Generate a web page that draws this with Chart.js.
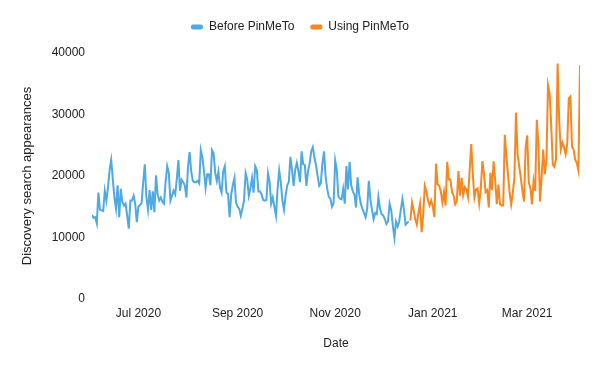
<!DOCTYPE html>
<html>
<head>
<meta charset="utf-8">
<script src="https://cdn.jsdelivr.net/npm/chart.js@4.4.0/dist/chart.umd.min.js"></script>
<style>
  html, body { margin: 0; padding: 0; background: #fff; }
</style>
</head>
<body>
<canvas id="chart" width="600" height="371"></canvas>
<script>
// first day of the "Before PinMeTo" series, one value per day after that
const startDate = '2020-06-02';

const beforeValues = [
  13700, 13200, 13300, 12300, 17300, 14500, 14400, 14300, 17600, 16000,
  18100, 21000, 22600, 19500, 16500, 14700, 18500, 13300, 17900, 15800,
  15200, 15500, 13500, 11450, 16000, 16000, 16800, 15500, 12500, 15000,
  15300, 15600, 19000, 21900, 16500, 14500, 17700, 14500, 17500, 14100,
  20100, 17000, 16000, 16500, 15800, 15500, 19000, 21600, 20500, 16000,
  16800, 17600,
  17000, 19500, 22600, 17600, 19400, 19000, 18500, 16500, 21500, 23900,
  20800, 19200, 19000, 19000, 19200, 18800, 24200, 23000, 20800, 18100,
  20300, 20300, 18500, 24200, 23700, 20500, 19200, 20700, 18100, 17300,
  20800, 21600, 17300, 17100, 13300, 17000, 18500, 19700, 15700, 15000,
  14700, 13550, 14700, 16000, 20500, 19500, 16800, 18000, 19700,
  17300, 21600, 21000, 17500,
  17500, 17000, 16100, 16000, 16100, 20400, 19000, 15500, 16500, 15000,
  13550, 18000, 20900, 19000, 16000, 14500, 16800, 18500, 19000, 23100,
  21000, 18400, 21000, 22150, 20800, 19000, 24000, 21900, 21800, 18400,
  20800, 22000, 24000, 24700, 23000, 21800, 20000, 18400, 18800, 22000,
  24000, 20000, 17900, 16600, 16300, 15000, 15600, 22500, 21000, 16600,
  16300, 16200, 17900, 15500,
  21600, 17800, 22300, 18500, 17500, 17000, 14900, 19800, 17000, 15500,
  14700, 14000, 13300, 14700, 19200, 16200, 14500, 13000, 14000, 13800,
  16600, 14700, 13800, 13600, 13000, 12200, 12600, 15500, 14500, 12000,
  9950, 12600, 11800, 12600, 14500, 16250, 14500, 12100, 12400, 12600
];

// continues the day after the last "before" value
const usingValues = [
  12750, 15700, 14500, 13000, 12100, 14000, 15500, 10850, 13800, 18400,
  17500, 16000, 15200, 16000, 15000, 13300, 22000, 18650, 18400, 17500,
  15700, 17400, 15200, 22300, 19450, 19450, 17400, 16800, 15400, 15900,
  20800, 16800, 19700, 16900, 18200, 17800, 16600, 20800, 25200, 20300,
  16500, 17800, 18000, 15550, 18000, 22400, 20300, 17400, 17700, 14900,
  20500, 17700, 22400, 19300, 15400, 18600, 15400, 15200, 15200,
  26700, 23200, 20300, 17300, 15400, 17300, 19700, 30300, 23500, 21600,
  19700, 17600, 15850, 24600, 26600, 18900, 18100, 15400, 19200, 17600,
  29150, 25100, 15850, 19700, 24300, 20300, 22400, 34800, 33450, 28300,
  21900, 21500, 22700, 38300, 28900, 24300, 25400, 24700, 23500, 25100,
  32600, 32900, 24800, 24300, 22700, 22100, 20900, 38000
];

const tickDates = ['2020-07-01', '2020-09-01', '2020-11-01', '2021-01-01', '2021-03-01'];
const tickLabels = ['Jul 2020', 'Sep 2020', 'Nov 2020', 'Jan 2021', 'Mar 2021'];

const yTicks = [0, 10000, 20000, 30000, 40000];

function dayIndex(dateStr){
    return Math.round((Date.parse(dateStr) - Date.parse(startDate)) / 86400000);
}

const beforePoints = beforeValues.map((v, i) => ({ x: i, y: v }));
const usingPoints = usingValues.map((v, i) => ({ x: beforeValues.length + i, y: v }));
const lastDay = beforeValues.length + usingValues.length - 1;
const tickDays = tickDates.map(dayIndex);

const font = { family: "'Liberation Sans', Arial, sans-serif", size: 12 };

// extra room under the legend
const legendMargin = {
    id: 'legendMargin',
    beforeInit(chart){
        const fit = chart.legend.fit;
        chart.legend.fit = function(){
            fit.bind(chart.legend)();
            this.height += 10;
        };
    }
};

new Chart(document.getElementById('chart'), {
    type: 'line',
    plugins: [legendMargin],
    data: {
        datasets: [{
            label: 'Before PinMeTo',
            data: beforePoints,
            borderColor: '#4fa9e2',
            backgroundColor: '#4fa9e2'
        }, {
            label: 'Using PinMeTo',
            data: usingPoints,
            borderColor: '#f7871f',
            backgroundColor: '#f7871f'
        }]
    },
    options: {
        responsive: false,
        animation: false,
        devicePixelRatio: 1,
        layout: { padding: { top: 5, right: 20, bottom: 0, left: 20 } },
        elements: {
            point: { radius: 0 },
            line: { borderWidth: 2, tension: 0 }
        },
        plugins: {
            tooltip: { enabled: false },
            legend: {
                position: 'top',
                align: 'center',
                labels: {
                    boxWidth: 12,
                    boxHeight: 5,
                    useBorderRadius: true,
                    borderRadius: 2,
                    padding: 16,
                    color: '#222',
                    font: font,
                    generateLabels(chart){
                        let items = Chart.defaults.plugins.legend.labels.generateLabels(chart);
                        items.forEach(it => {
                            it.lineWidth = 0;
                            it.fillStyle = it.strokeStyle;
                        });
                        return items;
                    }
                }
            }
        },
        scales: {
            x: {
                type: 'linear',
                min: 0,
                max: lastDay,
                grid: { display: false, drawTicks: false },
                border: { display: false },
                afterBuildTicks(scale){
                    scale.ticks = tickDays.map(d => ({ value: d }));
                },
                afterFit(scale){
                    scale.height = 72;
                },
                ticks: {
                    autoSkip: false,
                    maxRotation: 0,
                    padding: 7,
                    color: '#222',
                    font: font,
                    callback(value){
                        let i = tickDays.indexOf(value);
                        return i >= 0 ? tickLabels[i] : '';
                    }
                },
                title: {
                    display: true,
                    text: 'Date',
                    color: '#222',
                    font: font,
                    padding: { top: 0, bottom: 20 }
                }
            },
            y: {
                min: yTicks[0],
                max: yTicks[yTicks.length - 1],
                grid: { display: false, drawTicks: false },
                border: { display: false },
                afterBuildTicks(scale){
                    scale.ticks = yTicks.map(v => ({ value: v }));
                },
                afterFit(scale){
                    scale.width = 72;
                },
                ticks: {
                    padding: 7,
                    color: '#222',
                    font: font,
                    callback(value){
                        return String(value);
                    }
                },
                title: {
                    display: true,
                    text: 'Discovery search appearances',
                    color: '#222',
                    font: { family: font.family, size: 13 },
                    padding: { top: 0, bottom: 0 }
                }
            }
        }
    }
});
</script>
</body>
</html>
